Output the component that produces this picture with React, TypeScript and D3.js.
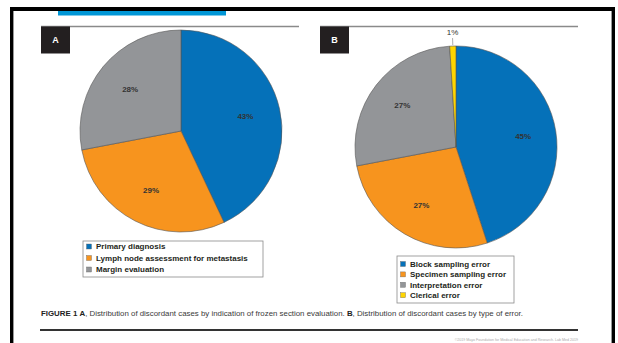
import React from "react";
import * as d3 from "d3";

// Panel A: discordant cases by indication of frozen section evaluation
const indicationLabels = ["Primary diagnosis", "Lymph node assessment for metastasis", "Margin evaluation"];
const indicationValues = [43, 29, 28];
const indicationColors = ["#0571b9", "#f7941e", "#939598"];

// Panel B: discordant cases by type of error
const errorLabels = ["Block sampling error", "Specimen sampling error", "Interpretation error", "Clerical error"];
const errorValues = [45, 27, 27, 1];
const errorColors = ["#0571b9", "#f7941e", "#939598", "#ffd500"];

const W = 618;
const H = 343;
const R = 101;

type PieProps = {
  cx: number;
  cy: number;
  values: number[];
  colors: string[];
  labelRadius: number;
  outsideMin?: number;
};

function Pie({ cx, cy, values, colors, labelRadius, outsideMin = 0 }: PieProps) {
  const pie = d3.pie<number>().sort(null).startAngle(0).endAngle(2 * Math.PI);
  const arcs = pie(values);
  const arc = d3.arc<d3.PieArcDatum<number>>().innerRadius(0).outerRadius(R);
  const labelArc = d3.arc<d3.PieArcDatum<number>>().innerRadius(labelRadius).outerRadius(labelRadius);
  return (
    <g transform={`translate(${cx},${cy})`}>
      {arcs.map((a, i) => (
        <path key={i} d={arc(a) || ""} fill={colors[i]} stroke="#555" strokeWidth={0.6} />
      ))}
      {arcs.map((a, i) => {
        const mid = (a.startAngle + a.endAngle) / 2;
        if (a.data <= outsideMin) {
          const x1 = Math.sin(mid) * (R + 1);
          const y1 = -Math.cos(mid) * (R + 1);
          const x2 = Math.sin(mid) * (R + 8);
          const y2 = -Math.cos(mid) * (R + 8);
          return (
            <g key={"l" + i}>
              <line x1={x1} y1={y1} x2={x2} y2={y2} stroke="#999" strokeWidth={0.8} />
              <text x={x2} y={y2 - 3} textAnchor="middle" fontSize={8} fill="#333"
                fontFamily="Liberation Sans, Arial, sans-serif">{a.data}%</text>
            </g>
          );
        }
        const [lx, ly] = labelArc.centroid(a);
        return (
          <text key={"l" + i} x={lx} y={ly} dy="0.35em" textAnchor="middle" fontSize={8}
            fill="#333" fontWeight="bold" fontFamily="Liberation Sans, Arial, sans-serif">
            {a.data}%
          </text>
        );
      })}
    </g>
  );
}

type LegendProps = {
  x: number; y: number; w: number; h: number; first: number;
  labels: string[]; colors: string[]; rowH: number;
};

function Legend({ x, y, w, h, first, labels, colors, rowH }: LegendProps) {
  return (
    <g transform={`translate(${x},${y})`}>
      <rect x={0} y={0} width={w} height={h} fill="#fff" stroke="#8a8a8a" strokeWidth={0.8} />
      {labels.map((l, i) => (
        <g key={l} transform={`translate(0,${first + rowH * i})`}>
          <rect x={3.5} y={-2.5} width={5} height={5} fill={colors[i]} stroke="#666" strokeWidth={0.4} />
          <text x={13} y={0} dy="0.35em" fontSize={8} fontWeight="bold" fill="#231f20"
            fontFamily="Liberation Sans, Arial, sans-serif">{l}</text>
        </g>
      ))}
    </g>
  );
}

function PanelHeader({ x, x2, letter }: { x: number; x2: number; letter: string }) {
  return (
    <g>
      <line x1={x} x2={x2} y1={26.5} y2={26.5} stroke="#8a8a8a" strokeWidth={1.4} />
      <rect x={x} y={26.5} width={29} height={27} fill="#231f20" />
      <text x={x + 14.5} y={40} dy="0.35em" textAnchor="middle" fontSize={9} fontWeight="bold" fill="#fff"
        fontFamily="Liberation Sans, Arial, sans-serif">{letter}</text>
    </g>
  );
}

export default function App() {
  const sans = "Liberation Sans, Arial, sans-serif";
  return (
    <svg width={W} height={H} viewBox={`0 0 ${W} ${H}`}
      style={{ position: "absolute", left: 0, top: 0, background: "#fff" }}>
      <rect x={0} y={0} width={W} height={H} fill="#fff" />
      {/* page frame */}
      <line x1={10} x2={615} y1={9} y2={9} stroke="#000" strokeWidth={4} />
      <line x1={11.7} x2={11.7} y1={7} y2={H} stroke="#000" strokeWidth={3.4} />
      <line x1={613.3} x2={613.3} y1={7} y2={H} stroke="#000" strokeWidth={3.4} />
      <rect x={58} y={11} width={168} height={4.5} fill="#0096d6" />

      <PanelHeader x={41} x2={299} letter="A" />
      <PanelHeader x={320} x2={578} letter="B" />

      <Pie cx={181} cy={131} values={indicationValues} colors={indicationColors} labelRadius={66} />
      <Pie cx={456} cy={147} values={errorValues} colors={errorColors} labelRadius={68} outsideMin={1} />

      <Legend x={83} y={241} w={180} h={36} first={5.5} labels={indicationLabels}
        colors={indicationColors} rowH={11.5} />
      <Legend x={397} y={256} w={117} h={47} first={8} labels={errorLabels}
        colors={errorColors} rowH={10.4} />

      <text x={41} y={316} fontSize={7} fill="#3a3a3a" fontFamily={sans} textLength={482}
        lengthAdjust="spacingAndGlyphs">
        <tspan fontWeight="bold" fill="#222">FIGURE 1</tspan>
        <tspan>{"  "}</tspan>
        <tspan fontWeight="bold" fill="#222">A</tspan>
        <tspan>, Distribution of discordant cases by indication of frozen section evaluation. </tspan>
        <tspan fontWeight="bold" fill="#222">B</tspan>
        <tspan>, Distribution of discordant cases by type of error.</tspan>
      </text>
      <line x1={40} x2={578} y1={330} y2={330} stroke="#333" strokeWidth={2.2} />
      <text x={578} y={341} textAnchor="end" fontSize={3.6} fill="#aaa" fontFamily={sans}>
        ©2019 Mayo Foundation for Medical Education and Research. Lab Med 2019
      </text>
    </svg>
  );
}
